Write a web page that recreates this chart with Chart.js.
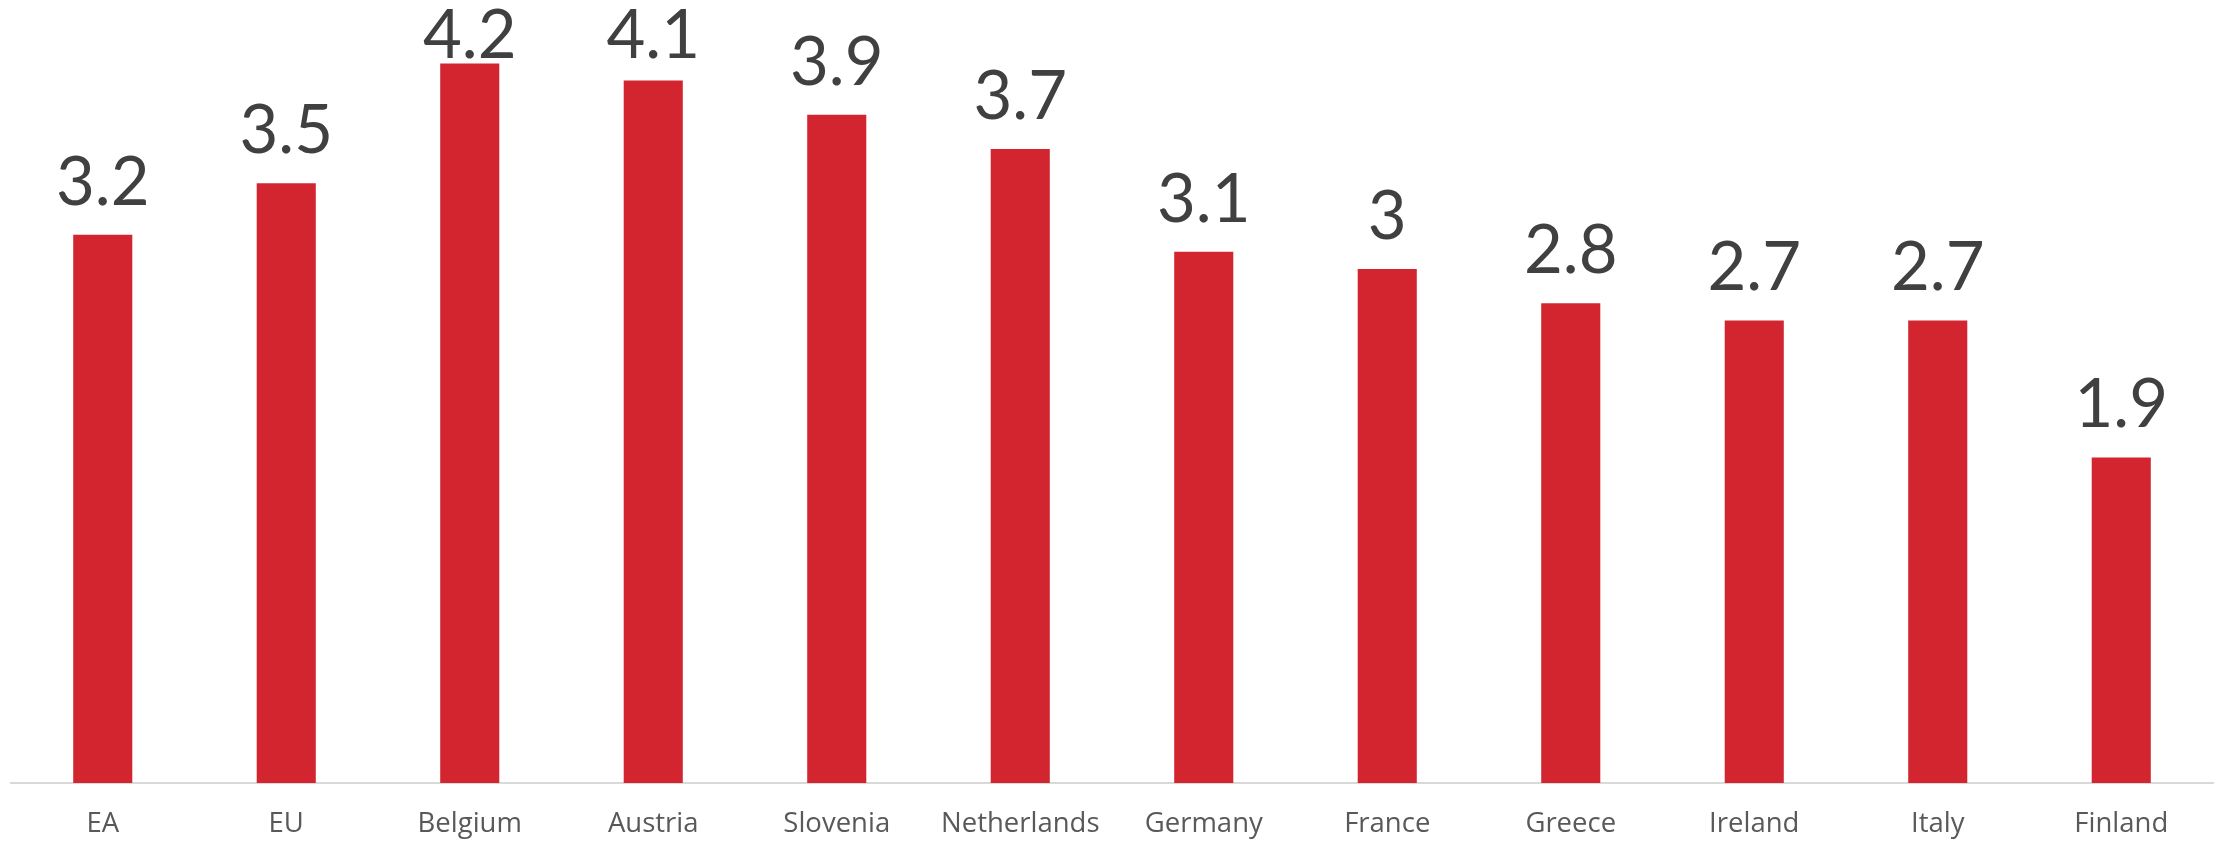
<!DOCTYPE html>
<html>
<head>
<meta charset="utf-8">
<script src="https://cdn.jsdelivr.net/npm/chart.js@4/dist/chart.umd.min.js"></script>
<style>
html,body{margin:0;padding:0;background:#fff;}
#wrap{width:2219px;height:841px;}
</style>
</head>
<body>
<div id="wrap"><canvas id="c" width="2219" height="841"></canvas></div>
<script>
const categories = ['EA','EU','Belgium','Austria','Slovenia','Netherlands','Germany','France','Greece','Ireland','Italy','Finland'];
const values = [3.2, 3.5, 4.2, 4.1, 3.9, 3.7, 3.1, 3.0, 2.8, 2.7, 2.7, 1.9];
const valueLabels = ['3.2','3.5','4.2','4.1','3.9','3.7','3.1','3','2.8','2.7','2.7','1.9'];

const labelPlugin = {
  id: 'valueLabels',
  afterDatasetsDraw(chart) {
    const ctx = chart.ctx;
    const meta = chart.getDatasetMeta(0);
    ctx.save();
    ctx.font = '67px Lato';
    ctx.fillStyle = '#404040';
    ctx.textAlign = 'center';
    ctx.textBaseline = 'alphabetic';
    meta.data.forEach((bar, i) => {
      const y = Math.max(bar.y - 30, 58);
      ctx.fillText(valueLabels[i], bar.x, y);
    });
    ctx.restore();
  }
};

new Chart(document.getElementById('c'), {
  type: 'bar',
  data: {
    labels: categories,
    datasets: [{
      data: values,
      backgroundColor: '#d32530',
      borderWidth: 0,
      barPercentage: 0.322,
      categoryPercentage: 1.0
    }]
  },
  options: {
    responsive: false,
    devicePixelRatio: 1,
    animation: false,
    layout: { padding: { top: 12, left: 11, right: 6, bottom: 0 } },
    plugins: { legend: { display: false }, tooltip: { enabled: false } },
    scales: {
      x: {
        afterFit(scale) { scale.height = 58; },
        grid: { display: false, drawTicks: false },
        border: { display: true, color: '#d9d9d9', width: 2 },
        ticks: { color: '#595959', font: { family: 'Open Sans', size: 27.5 }, padding: 25, maxRotation: 0, autoSkip: false }
      },
      y: {
        display: false,
        min: 0,
        max: 4.5
      }
    }
  },
  plugins: [labelPlugin]
});
</script>
</body>
</html>
